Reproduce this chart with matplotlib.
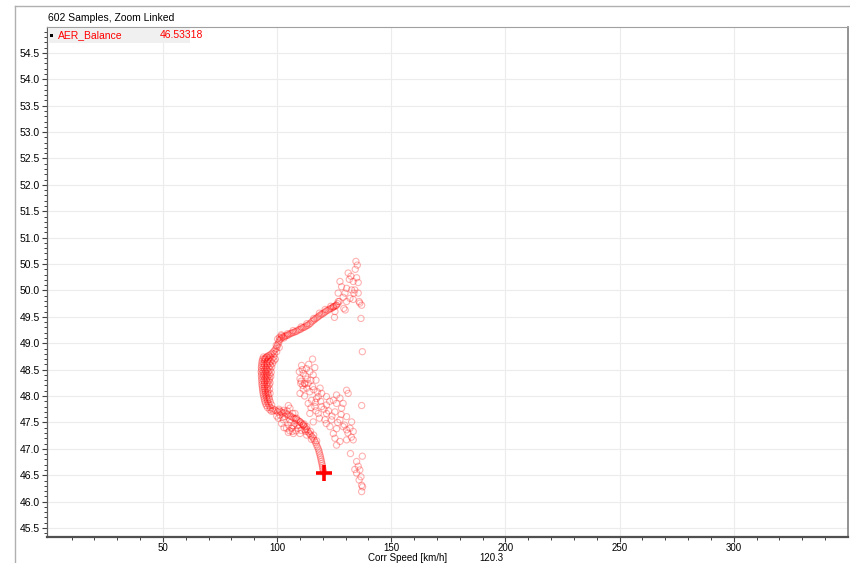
import matplotlib
matplotlib.use('Agg')
import matplotlib.pyplot as plt
from matplotlib.lines import Line2D
from matplotlib.patches import Rectangle
from matplotlib.ticker import MultipleLocator, FixedLocator, FormatStrFormatter

plt.rcParams['font.family'] = ['Liberation Sans', 'DejaVu Sans']

# speed [km/h], AER_Balance
upper_curve = [
    (125.8, 49.72), (125.3, 49.70), (124.7, 49.69), (124.2, 49.67), (123.6, 49.66),
    (123.0, 49.65), (122.4, 49.63), (121.8, 49.62), (121.2, 49.60), (120.6, 49.58),
    (120.0, 49.56), (119.4, 49.55), (118.8, 49.53), (118.2, 49.51), (117.6, 49.49),
    (117.0, 49.47), (116.4, 49.45), (115.8, 49.43), (115.2, 49.41), (114.6, 49.38),
    (114.0, 49.36), (113.4, 49.34), (112.8, 49.33), (112.2, 49.31), (111.6, 49.30),
    (111.0, 49.29), (110.4, 49.27), (109.8, 49.26), (109.2, 49.25), (108.6, 49.23),
    (108.0, 49.22), (107.4, 49.21), (106.8, 49.20), (106.2, 49.19), (105.6, 49.18),
    (105.0, 49.16), (104.4, 49.15), (103.8, 49.14), (103.2, 49.13), (102.6, 49.12),
    (102.0, 49.10), (101.5, 49.08), (101.0, 49.06), (100.7, 49.02), (100.3, 48.98),
    (100.0, 48.94), (99.5, 48.90), (99.0, 48.87), (98.4, 48.84), (97.8, 48.81),
    (97.2, 48.79), (96.6, 48.77), (96.0, 48.76), (95.4, 48.74), (94.8, 48.72),
    (94.3, 48.70), (103.0, 49.10), (102.0, 49.14), (101.0, 49.11), (104.5, 49.18),
    (110.5, 49.31), (116.0, 49.47), (121.0, 49.64), (126.5, 49.75), (127.2, 49.79),
    (100.2, 49.08), (101.8, 49.16), (99.6, 48.96), (100.9, 48.92), (107.0, 49.24),
    (113.0, 49.37), (118.5, 49.57), (123.5, 49.70), (98.8, 48.80), (99.8, 48.84),
]

left_band = [
    (94.0, 48.74), (95.5, 48.74), (97.0, 48.74), (98.5, 48.74),
    (93.6, 48.70), (94.8, 48.70), (96.2, 48.70), (97.8, 48.70), (99.2, 48.70),
    (93.4, 48.66), (94.5, 48.66), (95.8, 48.66), (97.3, 48.66), (98.6, 48.67),
    (93.3, 48.62), (94.2, 48.62), (95.4, 48.62), (96.6, 48.62), (98.0, 48.62),
    (93.2, 48.58), (94.4, 48.58), (95.7, 48.58), (97.1, 48.58),
    (93.1, 48.54), (94.0, 48.54), (95.2, 48.54), (96.4, 48.54), (97.6, 48.55),
    (93.2, 48.50), (94.5, 48.50), (95.6, 48.50), (96.9, 48.50),
    (93.0, 48.46), (93.9, 48.46), (95.0, 48.46), (96.2, 48.46), (97.4, 48.45),
    (93.2, 48.42), (94.3, 48.42), (95.5, 48.42), (96.8, 48.41),
    (93.1, 48.38), (94.0, 48.38), (95.1, 48.38), (96.0, 48.38), (97.2, 48.37),
    (93.3, 48.34), (94.6, 48.34), (95.6, 48.34), (96.7, 48.33),
    (93.2, 48.30), (94.2, 48.30), (95.3, 48.30), (96.4, 48.29),
    (93.4, 48.26), (94.5, 48.26), (95.8, 48.26), (96.9, 48.25),
    (93.3, 48.22), (94.3, 48.22), (95.4, 48.22), (96.5, 48.21),
    (93.5, 48.18), (94.6, 48.18), (95.9, 48.18),
    (93.6, 48.14), (94.5, 48.14), (95.6, 48.14), (96.7, 48.13),
    (93.7, 48.10), (94.8, 48.10), (96.0, 48.10),
    (93.8, 48.06), (94.9, 48.06), (95.8, 48.06), (96.9, 48.05),
    (94.0, 48.02), (95.1, 48.02), (96.2, 48.02),
    (94.2, 47.98), (95.3, 47.98), (96.4, 47.97),
    (94.4, 47.94), (95.6, 47.94), (96.6, 47.94),
    (94.6, 47.90), (95.8, 47.90), (97.0, 47.89),
    (94.9, 47.86), (96.1, 47.86),
    (95.3, 47.82), (96.5, 47.82), (97.6, 47.83),
    (95.8, 47.78), (97.0, 47.78),
]

lower_curve = [
    (96.8, 47.74), (97.5, 47.71), (98.2, 47.72), (98.9, 47.74), (99.6, 47.72),
    (100.3, 47.70), (101.0, 47.72), (101.7, 47.70), (102.4, 47.68), (103.1, 47.69),
    (103.8, 47.67), (104.5, 47.65), (105.2, 47.63), (105.9, 47.62), (106.6, 47.60),
    (107.3, 47.58), (108.0, 47.57), (108.7, 47.55), (109.4, 47.53), (110.1, 47.51),
    (110.8, 47.48), (111.4, 47.45), (112.0, 47.42), (112.6, 47.39), (113.1, 47.36),
    (113.6, 47.32), (114.1, 47.29), (114.7, 47.26), (115.3, 47.23), (115.8, 47.20),
    (116.3, 47.16), (116.8, 47.12), (117.2, 47.08), (117.6, 47.04), (118.0, 47.00),
    (118.3, 46.96), (118.5, 46.92), (118.8, 46.88), (119.0, 46.84), (119.2, 46.80),
    (119.4, 46.76), (119.6, 46.72), (119.8, 46.68), (119.9, 46.64), (120.1, 46.60),
    (120.3, 46.56), (98.0, 47.76), (100.8, 47.75), (102.8, 47.73), (111.8, 47.47),
    (113.0, 47.42), (114.6, 47.33), (116.0, 47.26), (117.3, 47.15), (112.4, 47.33),
    (115.0, 47.18),
]

lower_spread = [
    (104.9, 47.82), (105.6, 47.77), (104.4, 47.72), (106.8, 47.67), (107.8, 47.67),
    (101.2, 47.64), (103.4, 47.61), (108.5, 47.58), (102.7, 47.55), (105.6, 47.55),
    (110.0, 47.51), (101.9, 47.48), (104.9, 47.45), (107.8, 47.48), (111.4, 47.45),
    (104.1, 47.39), (106.3, 47.39), (109.2, 47.39), (112.2, 47.36), (104.9, 47.31),
    (107.1, 47.29), (110.0, 47.29), (112.9, 47.26), (102.5, 47.60), (106.0, 47.50),
    (108.8, 47.44), (103.0, 47.40), (110.5, 47.35), (105.5, 47.34), (100.5, 47.58),
    (99.8, 47.62), (107.0, 47.43), (108.3, 47.34), (109.8, 47.45), (106.7, 47.33),
]

upper_scatter = [
    (134.5, 50.55), (135.1, 50.48), (134.2, 50.40), (131.1, 50.33), (132.3, 50.27),
    (134.8, 50.24), (127.5, 50.17), (131.6, 50.21), (133.3, 50.17), (135.5, 50.15),
    (128.2, 50.07), (130.4, 50.04), (132.6, 50.01), (134.0, 50.01), (126.7, 49.95),
    (129.7, 49.95), (133.6, 49.95), (135.5, 49.95), (128.9, 49.87), (131.9, 49.85),
    (126.7, 49.79), (130.4, 49.79), (133.3, 49.83), (135.9, 49.79), (137.0, 49.72),
    (136.2, 49.76), (126.0, 49.72), (129.2, 49.66), (129.8, 49.63), (124.6, 49.69),
    (125.3, 49.60), (125.1, 49.49), (136.7, 49.47), (137.3, 48.84),
]

middle_scatter = [
    (115.5, 48.70), (110.7, 48.58), (116.5, 48.54), (109.7, 48.46), (114.3, 48.46),
    (111.4, 48.43), (115.8, 48.40), (110.0, 48.33), (113.2, 48.32), (117.0, 48.30),
    (110.3, 48.24), (112.2, 48.23), (113.6, 48.24), (115.5, 48.18), (111.4, 48.13),
    (110.0, 48.05), (114.3, 48.08), (117.6, 48.08), (119.5, 48.05), (126.0, 48.02),
    (130.4, 48.11), (131.1, 48.05), (127.5, 47.96), (124.6, 47.92), (121.6, 47.99),
    (118.0, 47.99), (115.1, 47.92), (113.6, 47.86), (116.5, 47.80), (119.5, 47.80),
    (121.6, 47.83), (126.0, 47.86), (128.9, 47.86), (137.0, 47.82), (114.3, 47.67),
    (118.0, 47.67), (121.6, 47.67), (125.3, 47.70), (128.2, 47.77), (115.8, 47.51),
    (120.9, 47.55), (123.8, 47.55), (127.5, 47.55), (130.4, 47.61), (132.6, 47.51),
    (131.9, 47.39), (130.4, 47.36), (133.3, 47.33), (128.9, 47.42), (123.1, 47.42),
    (124.6, 47.29), (125.3, 47.20), (127.5, 47.14), (130.4, 47.17), (133.3, 47.17),
    (126.0, 47.07), (132.1, 46.91), (111.0, 48.50), (112.5, 48.38), (110.5, 48.28),
    (113.0, 48.15), (114.8, 48.30), (116.0, 48.12), (112.0, 48.00), (117.2, 47.95),
    (119.0, 47.90), (120.5, 47.75), (122.5, 47.72), (123.0, 47.90), (124.0, 47.62),
    (126.5, 47.50), (128.0, 47.65), (129.5, 47.45), (131.0, 47.30), (132.5, 47.22),
    (126.0, 47.38), (121.5, 47.48), (118.5, 47.58), (117.0, 47.72), (114.8, 47.78),
    (116.8, 47.88), (118.8, 48.15), (113.8, 48.60), (112.8, 48.52), (111.2, 48.20),
    (112.0, 48.24),
]

bottom_scatter = [
    (137.3, 46.86), (134.8, 46.76), (135.5, 46.67), (134.0, 46.61), (136.2, 46.60),
    (134.8, 46.54), (136.7, 46.47), (135.9, 46.41), (137.0, 46.31), (137.4, 46.28),
    (137.0, 46.19),
]

cursor_speed = 120.3
cursor_balance = 46.53318
n_samples = 602

x_major = [50, 100, 150, 200, 250, 300]


def main():
    fig = plt.figure(figsize=(8.5, 5.63), dpi=100)
    ax = fig.add_axes([47 / 850, 26 / 563, 801 / 850, 510 / 563])

    punkty = (upper_curve + left_band + lower_curve + lower_spread
              + upper_scatter + middle_scatter + bottom_scatter)
    xs = [p[0] for p in punkty]
    ys = [p[1] for p in punkty]
    ax.scatter(xs, ys, s=20, facecolors='none',
               edgecolors=(1, 0, 0, 0.3), linewidths=0.8, zorder=3)
    ax.plot([cursor_speed], [cursor_balance], marker='+', color='#ff0000',
            markersize=12, markeredgewidth=2.6, zorder=4)

    ax.set_xlim(-0.8, 350)
    ax.set_ylim(45.33, 54.99)

    ax.xaxis.set_major_locator(FixedLocator(x_major))
    ax.xaxis.set_minor_locator(FixedLocator(
        [v for v in range(10, 350, 10) if v % 50 != 0]))
    ax.yaxis.set_major_locator(MultipleLocator(0.5))
    ax.yaxis.set_minor_locator(MultipleLocator(0.1))
    ax.yaxis.set_major_formatter(FormatStrFormatter('%.1f'))

    ax.tick_params(axis='both', which='major', direction='out', length=3.5,
                   width=0.8, color='#404040', labelsize=7.5, pad=1.5)
    ax.tick_params(axis='x', which='major', labelsize=7, pad=1)
    ax.tick_params(axis='both', which='minor', direction='out', length=2.5,
                   width=0.7, color='#404040')
    ax.grid(True, which='major', color='#ececec', linewidth=0.8)
    ax.set_axisbelow(True)

    ax.spines['bottom'].set_color('#505050')
    ax.spines['bottom'].set_linewidth(1.6)
    ax.spines['left'].set_color('#606060')
    ax.spines['left'].set_linewidth(0.9)
    ax.spines['top'].set_color('#a0a0a0')
    ax.spines['right'].set_color('#808080')
    ax.spines['right'].set_linewidth(1.2)

    # ramka okna
    fig.add_artist(Line2D([15 / 850, 849 / 850], [1 - 6 / 563, 1 - 6 / 563],
                          transform=fig.transFigure, color='#b0b0b0', lw=1))
    fig.add_artist(Line2D([15 / 850, 15 / 850], [0, 1 - 6 / 563],
                          transform=fig.transFigure, color='#b0b0b0', lw=1))

    fig.text(48 / 850, 1 - 18 / 563, f'{n_samples} Samples, Zoom Linked',
             fontsize=7.5, va='center', ha='left')

    # legenda
    fig.add_artist(Rectangle((48 / 850, 1 - 43 / 563), 142 / 850, 15 / 563,
                             transform=fig.transFigure, facecolor='#f0f0f0',
                             edgecolor='none', zorder=5))
    fig.add_artist(Rectangle((49.5 / 850, 1 - 37 / 563), 3 / 850, 3 / 563,
                             transform=fig.transFigure, facecolor='black',
                             edgecolor='none', zorder=6))
    fig.text(58 / 850, 1 - 35.5 / 563, 'AER_Balance', color='#ff0000',
             fontsize=7.5, va='center', ha='left', zorder=7)
    fig.text(160 / 850, 1 - 35.5 / 563, f'{cursor_balance:.5f}', color='#ff0000',
             fontsize=7.5, va='center', ha='left', zorder=7)

    fig.text(408 / 850, 1 - 558 / 563, 'Corr Speed [km/h]', fontsize=7,
             va='center', ha='center')
    fig.text(491 / 850, 1 - 558 / 563, f'{cursor_speed}', fontsize=7,
             va='center', ha='center')

    fig.savefig('out.png', dpi=100)


if __name__ == '__main__':
    main()
